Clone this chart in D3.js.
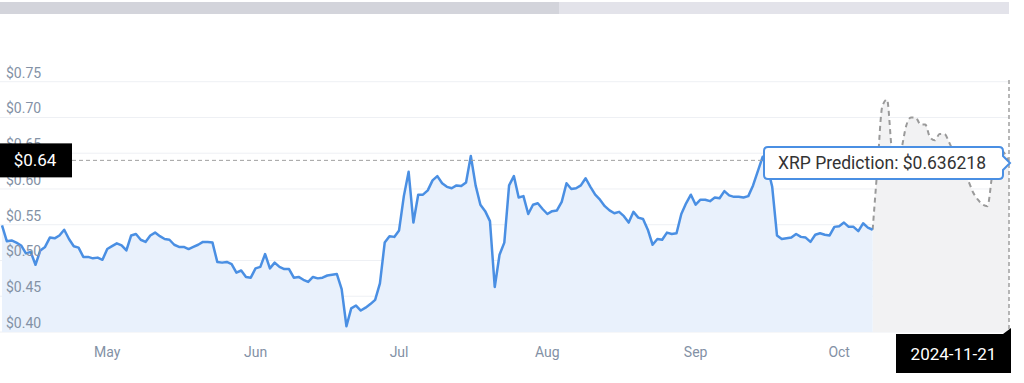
<!DOCTYPE html>
<html>
<head>
<meta charset="utf-8">
<script src="https://cdn.jsdelivr.net/npm/d3@7"></script>
<style>
  html, body { margin: 0; padding: 0; background: #fff; }
  svg { display: block; font-family: Roboto, "Noto Sans", sans-serif; }
</style>
</head>
<body>
<svg id="chart" width="1024" height="383"></svg>
<script>
// ---------- DATA ----------
const histStart = "2024-04-09";
const histValues = [
  0.549, 0.527, 0.528, 0.525, 0.521, 0.510, 0.512, 0.494, 0.514, 0.519,
  0.532, 0.531, 0.535, 0.543, 0.530, 0.520, 0.518, 0.505, 0.505, 0.503,
  0.504, 0.501, 0.516, 0.520, 0.524, 0.521, 0.514, 0.535, 0.537, 0.529,
  0.526, 0.535, 0.539, 0.534, 0.530, 0.529, 0.522, 0.519, 0.519, 0.516,
  0.519, 0.522, 0.526, 0.526, 0.525, 0.498, 0.497, 0.498, 0.495, 0.483,
  0.486, 0.477, 0.476, 0.489, 0.491, 0.509, 0.489, 0.497, 0.491, 0.488,
  0.488, 0.476, 0.477, 0.473, 0.470, 0.477, 0.475, 0.476, 0.479, 0.480,
  0.481, 0.460, 0.408, 0.433, 0.437, 0.430, 0.434, 0.439, 0.445, 0.468,
  0.525, 0.534, 0.533, 0.542, 0.590, 0.624, 0.553, 0.592, 0.592, 0.598,
  0.612, 0.618, 0.608, 0.603, 0.601, 0.605, 0.604, 0.609, 0.646, 0.605,
  0.578, 0.569, 0.555, 0.463, 0.508, 0.525, 0.605, 0.618, 0.588, 0.590,
  0.565, 0.578, 0.580, 0.572, 0.565, 0.569, 0.570, 0.582, 0.608, 0.600,
  0.601, 0.605, 0.615, 0.603, 0.592, 0.585, 0.576, 0.570, 0.566, 0.568,
  0.562, 0.553, 0.568, 0.560, 0.558, 0.543, 0.522, 0.530, 0.529, 0.539,
  0.537, 0.538, 0.565, 0.580, 0.592, 0.578, 0.585, 0.585, 0.583, 0.588,
  0.587, 0.597, 0.591, 0.589, 0.589, 0.588, 0.590, 0.605, 0.625, 0.645,
  0.631, 0.603, 0.535, 0.530, 0.531, 0.532, 0.537, 0.533, 0.532, 0.526,
  0.536, 0.538, 0.536, 0.535, 0.547, 0.548, 0.553, 0.547, 0.547, 0.541,
  0.552, 0.546, 0.543
];
const predStart = "2024-10-08";
const predValues = [
  0.543, 0.630, 0.715, 0.725, 0.655, 0.630, 0.655, 0.688, 0.700, 0.700,
  0.690, 0.690, 0.672, 0.668, 0.677, 0.677, 0.665, 0.650, 0.635, 0.620,
  0.611, 0.595, 0.585, 0.578, 0.576, 0.620, 0.648, 0.653, 0.645, 0.632
];
const yTicks = [0.40, 0.45, 0.50, 0.55, 0.60, 0.65, 0.70, 0.75];
const monthTicks = ["2024-05-01", "2024-06-01", "2024-07-01", "2024-08-01", "2024-09-01", "2024-10-01"];
const xDomain = ["2024-04-08T13:55", "2024-11-05T12:00"];
const crosshairValue = 0.64;
const crosshairLabel = "$0.64";
const dateLabel = "2024-11-21";
const tooltipText = "XRP Prediction: $0.636218";

// ---------- SETUP ----------
const dayAdd = (s, i) => d3.timeDay.offset(d3.timeParse("%Y-%m-%d")(s), i);
const hist = histValues.map((v, i) => ({ date: dayAdd(histStart, i), value: v }));
const pred = predValues.map((v, i) => ({ date: dayAdd(predStart, i), value: v }));

const svg = d3.select("#chart");
const plot = { left: 0, right: 1009, top: 80, bottom: 332 };

const x = d3.scaleTime()
  .domain(xDomain.map(s => d3.timeParse("%Y-%m-%dT%H:%M")(s)))
  .range([plot.left, plot.right]);
const y = d3.scaleLinear().domain([0.40, 0.75]).range([plot.bottom, 81.7]);

// top bar
svg.append("rect").attr("x", 0).attr("y", 2).attr("width", 1009).attr("height", 12).attr("fill", "#e3e3ea");
svg.append("rect").attr("x", 0).attr("y", 2).attr("width", 559).attr("height", 12).attr("fill", "#d3d4db");

svg.append("defs").append("clipPath").attr("id", "clip")
  .append("rect").attr("x", plot.left).attr("y", 0).attr("width", plot.right - plot.left).attr("height", plot.bottom);

// gridlines
svg.append("g").selectAll("line").data(yTicks).join("line")
  .attr("x1", plot.left).attr("x2", plot.right)
  .attr("y1", d => y(d)).attr("y2", d => y(d))
  .attr("stroke", "#eef0f4").attr("stroke-width", 1);

const g = svg.append("g").attr("clip-path", "url(#clip)");

// prediction area
const predArea = d3.area().x(d => x(d.date)).y0(plot.bottom).y1(d => y(d.value)).curve(d3.curveMonotoneX);
g.append("path").datum(pred).attr("d", predArea).attr("fill", "#f2f2f3");

// historical area
const area = d3.area().x(d => x(d.date)).y0(plot.bottom).y1(d => y(d.value));
g.append("path").datum(hist).attr("d", area).attr("fill", "#e9f1fc");

// y tick labels
svg.append("g").selectAll("text").data(yTicks).join("text")
  .attr("x", 6).attr("y", d => y(d) - 4)
  .attr("fill", "#8391a5").attr("font-size", 14)
  .text(d => "$" + d3.format(".2f")(d));

const predLine = d3.line().x(d => x(d.date)).y(d => y(d.value)).curve(d3.curveMonotoneX);
g.append("path").datum(pred).attr("d", predLine)
  .attr("fill", "none").attr("stroke", "#9a9a9a").attr("stroke-width", 2).attr("stroke-dasharray", "5,4");

const line = d3.line().x(d => x(d.date)).y(d => y(d.value));
g.append("path").datum(hist).attr("d", line)
  .attr("fill", "none").attr("stroke", "#4a8fe3").attr("stroke-width", 2.5)
  .attr("stroke-linejoin", "round");

// x axis month labels
const fmtMonth = d3.timeFormat("%b");
svg.append("g").selectAll("text").data(monthTicks.map(s => d3.timeParse("%Y-%m-%d")(s))).join("text")
  .attr("x", d => x(d)).attr("y", 357)
  .attr("text-anchor", "middle").attr("fill", "#8391a5").attr("font-size", 14)
  .text(d => fmtMonth(d));

// crosshairs
const cy = y(crosshairValue);
svg.append("line").attr("x1", 72).attr("x2", plot.right).attr("y1", cy).attr("y2", cy)
  .attr("stroke", "#a0a0a0").attr("stroke-width", 1).attr("stroke-dasharray", "4,3");
svg.append("line").attr("x1", plot.right).attr("x2", plot.right).attr("y1", 80).attr("y2", plot.bottom)
  .attr("stroke", "#a0a0a0").attr("stroke-width", 1.5).attr("stroke-dasharray", "4,3");

// left value label
svg.append("rect").attr("x", 0).attr("y", cy - 17).attr("width", 72).attr("height", 34).attr("fill", "#000");
svg.append("text").attr("x", 35).attr("y", cy + 6).attr("text-anchor", "middle")
  .attr("fill", "#fff").attr("font-size", 17).text(crosshairLabel);

// bottom date label with notch
const bx0 = 896, bx1 = plot.right + 2, by0 = 334, by1 = 373;
svg.append("path")
  .attr("d", `M${bx0},${by0} L${bx1 - 8},${by0} L${bx1},${by0 - 6} L${bx1},${by1} L${bx0},${by1} Z`)
  .attr("fill", "#000");
svg.append("text").attr("x", (bx0 + bx1) / 2).attr("y", 360).attr("text-anchor", "middle")
  .attr("fill", "#fff").attr("font-size", 17).text(dateLabel);

// tooltip
const tx0 = 764, tx1 = 1003, ty0 = 147, ty1 = 179, tm = (ty0 + ty1) / 2;
svg.append("path")
  .attr("d", `M${tx0 + 4},${ty0} L${tx1 - 4},${ty0} Q${tx1},${ty0} ${tx1},${ty0 + 4} L${tx1},${tm - 7} L${tx1 + 7},${tm} L${tx1},${tm + 7} L${tx1},${ty1 - 4} Q${tx1},${ty1} ${tx1 - 4},${ty1} L${tx0 + 4},${ty1} Q${tx0},${ty1} ${tx0},${ty1 - 4} L${tx0},${ty0 + 4} Q${tx0},${ty0} ${tx0 + 4},${ty0} Z`)
  .attr("fill", "#fff").attr("stroke", "#4a8fe3").attr("stroke-width", 2);
svg.append("text").attr("x", 778).attr("y", tm + 6)
  .attr("fill", "#333").attr("font-size", 17.5).text(tooltipText);
</script>
</body>
</html>
